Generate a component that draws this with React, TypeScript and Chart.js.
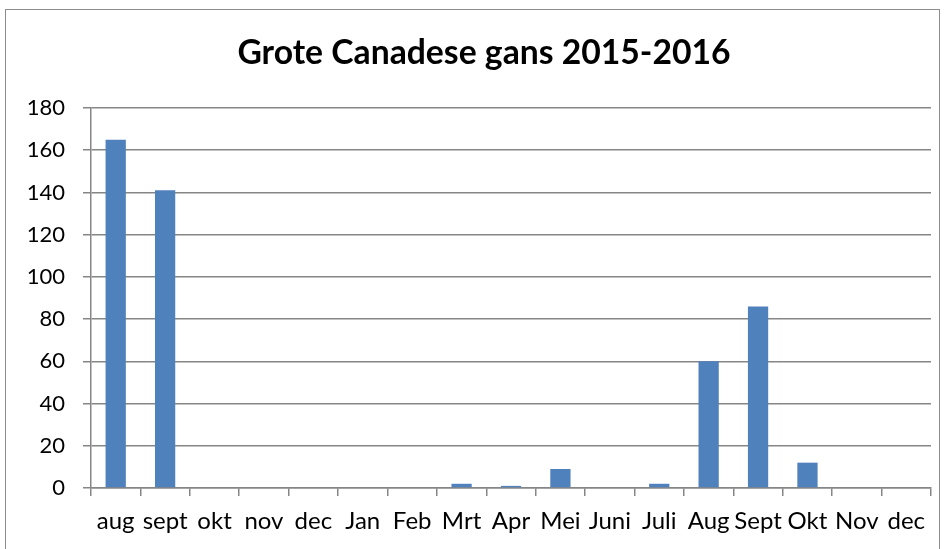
import { useEffect, useRef } from "react";
import { Chart, registerables } from "chart.js";

Chart.register(...registerables);

const categories = ["aug", "sept", "okt", "nov", "dec", "Jan", "Feb", "Mrt", "Apr", "Mei", "Juni", "Juli", "Aug", "Sept", "Okt", "Nov", "dec"];
const counts = [165, 141, 0, 0, 0, 0, 0, 2, 1, 9, 0, 2, 60, 86, 12, 0, 0];
const titleText = "Grote Canadese gans 2015-2016";

const FONT = "Lato, 'Open Sans', sans-serif";

export default function App() {
  const ref = useRef<HTMLCanvasElement | null>(null);

  useEffect(() => {
    if (!ref.current) return;
    const frame = {
      id: "frame",
      beforeDraw(chart: any) {
        const ctx = chart.ctx;
        ctx.save();
        ctx.fillStyle = "#ffffff";
        ctx.fillRect(0, 0, chart.width, chart.height);
        ctx.strokeStyle = "#8c8c8c";
        ctx.lineWidth = 1;
        ctx.strokeRect(5.5, 9.5, 934, 600);
        ctx.restore();
      },
      afterDraw(chart: any) {
        const ctx = chart.ctx;
        ctx.save();
        ctx.fillStyle = "#000000";
        ctx.font = `bold 33.7px ${FONT}`;
        ctx.textAlign = "center";
        ctx.textBaseline = "alphabetic";
        ctx.fillText(titleText, 484, 64);
        ctx.restore();
      },
    };
    const chart = new Chart(ref.current, {
      type: "bar",
      data: {
        labels: categories,
        datasets: [
          {
            data: counts,
            backgroundColor: "#4F81BD",
            borderWidth: 0,
            barPercentage: 0.82,
            categoryPercentage: 0.5,
          },
        ],
      },
      options: {
        animation: false,
        responsive: false,
        layout: { padding: { left: 0, right: 14, top: 108, bottom: 0 } },
        plugins: {
          legend: { display: false },
          title: { display: false },
          tooltip: { enabled: false },
        },
        scales: {
          x: {
            grid: {
              offset: true,
              drawOnChartArea: false,
              drawTicks: true,
              tickLength: 8,
              color: "#868686",
              lineWidth: 1.5,
            },
            border: { color: "#868686", width: 1.5 },
            ticks: {
              color: "#000000",
              font: { family: FONT, size: 24 },
              padding: 11,
              maxRotation: 0,
              autoSkip: false,
            },
            afterFit(scale: any) {
              scale.height = 61;
            },
          },
          y: {
            min: 0,
            max: 180,
            ticks: {
              stepSize: 20,
              color: "#000000",
              font: { family: FONT, size: 22 },
              padding: 18,
            },
            grid: {
              color: "#868686",
              lineWidth: 1.5,
              tickLength: 8,
              drawTicks: true,
            },
            border: { color: "#868686", width: 1.5 },
            afterFit(scale: any) {
              scale.width = 91;
            },
          },
        },
      },
      plugins: [frame],
    });
    return () => chart.destroy();
  }, []);

  return (
    <div style={{ position: "fixed", left: 0, top: 0, width: 945, height: 549 }}>
      <canvas ref={ref} width={945} height={549} style={{ display: "block" }} />
    </div>
  );
}
